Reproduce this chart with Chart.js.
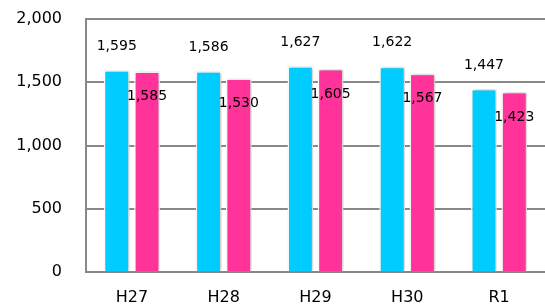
<!DOCTYPE html>
<html lang="ja">
<head>
    <meta charset="UTF-8">
    <title>H27-R1</title>
    <style>
        body {
            margin: 0;
            background: #fff;
        }
        #wrap {
            width: 545px;
            height: 306px;
            position: relative;
        }
    </style>
</head>
<body>
    <div id="wrap"><canvas id="myChart"></canvas></div>

    <script src="https://cdn.jsdelivr.net/npm/chart.js"></script>
    <script>
        const categories = ['H27', 'H28', 'H29', 'H30', 'R1'];
        const seriesA = [1595, 1586, 1627, 1622, 1447];
        const seriesB = [1585, 1530, 1605, 1567, 1423];
        const yTicks = [0, 500, 1000, 1500, 2000];

        const fontFamily = "'DejaVu Sans', sans-serif";

        // soft grey shadow around bars
        const barShadow = {
            id: 'barShadow',
            beforeDatasetsDraw(chart) {
                const ctx = chart.ctx;
                ctx.save();
                ctx.shadowColor = 'rgba(0,0,0,0.3)';
                ctx.shadowBlur = 3;
                ctx.shadowOffsetX = 1;
            },
            afterDatasetsDraw(chart) {
                chart.ctx.restore();
            }
        };

        // value labels: first series above the bar, second overlapping the bar top
        const valueLabels = {
            id: 'valueLabels',
            afterDatasetsDraw(chart) {
                const ctx = chart.ctx;
                ctx.save();
                ctx.font = '14px ' + fontFamily;
                ctx.fillStyle = '#000';
                ctx.textAlign = 'center';
                ctx.textBaseline = 'middle';
                chart.data.datasets.forEach((ds, i) => {
                    chart.getDatasetMeta(i).data.forEach((bar, j) => {
                        const txt = ds.data[j].toLocaleString('en-US');
                        const y = i === 0 ? bar.y - 24 : bar.y + 25;
                        ctx.fillText(txt, bar.x, y);
                    });
                });
                ctx.restore();
            }
        };

        const ctx = document.getElementById('myChart').getContext('2d');
        const myChart = new Chart(ctx, {
            type: 'bar',
            data: {
                labels: categories,
                datasets: [
                    {
                        data: seriesA,
                        backgroundColor: '#00ccff',
                        borderColor: '#ffffff',
                        borderWidth: 1.5,
                        categoryPercentage: 0.66,
                        barPercentage: 0.85
                    },
                    {
                        data: seriesB,
                        backgroundColor: '#ff3399',
                        borderColor: '#ffffff',
                        borderWidth: 1.5,
                        categoryPercentage: 0.66,
                        barPercentage: 0.85
                    }
                ]
            },
            options: {
                responsive: true,
                maintainAspectRatio: false,
                animation: false,
                layout: {
                    autoPadding: false,
                    padding: { top: 19, right: 0, left: 0, bottom: 0 }
                },
                plugins: {
                    legend: { display: false },
                    tooltip: { enabled: false }
                },
                scales: {
                    x: {
                        grid: { display: false },
                        border: { display: true, color: '#888', width: 2 },
                        ticks: {
                            color: '#000',
                            font: { family: fontFamily, size: 16 },
                            padding: 8
                        },
                        afterFit(scale) {
                            scale.height = 34;
                            scale.paddingLeft = 0;
                            scale.paddingRight = 0;
                        }
                    },
                    y: {
                        min: 0,
                        max: 2000,
                        afterBuildTicks(scale) {
                            scale.ticks = yTicks.map(v => ({ value: v }));
                        },
                        grid: { color: '#888', lineWidth: 2, drawTicks: false },
                        border: { display: true, color: '#888', width: 2 },
                        ticks: {
                            color: '#000',
                            font: { family: fontFamily, size: 16 },
                            padding: 24,
                            callback: v => v.toLocaleString('en-US')
                        },
                        afterFit(scale) {
                            scale.width = 86;
                            scale.paddingTop = 0;
                            scale.paddingBottom = 0;
                        }
                    }
                }
            },
            plugins: [barShadow, valueLabels]
        });
    </script>
</body>
</html>
